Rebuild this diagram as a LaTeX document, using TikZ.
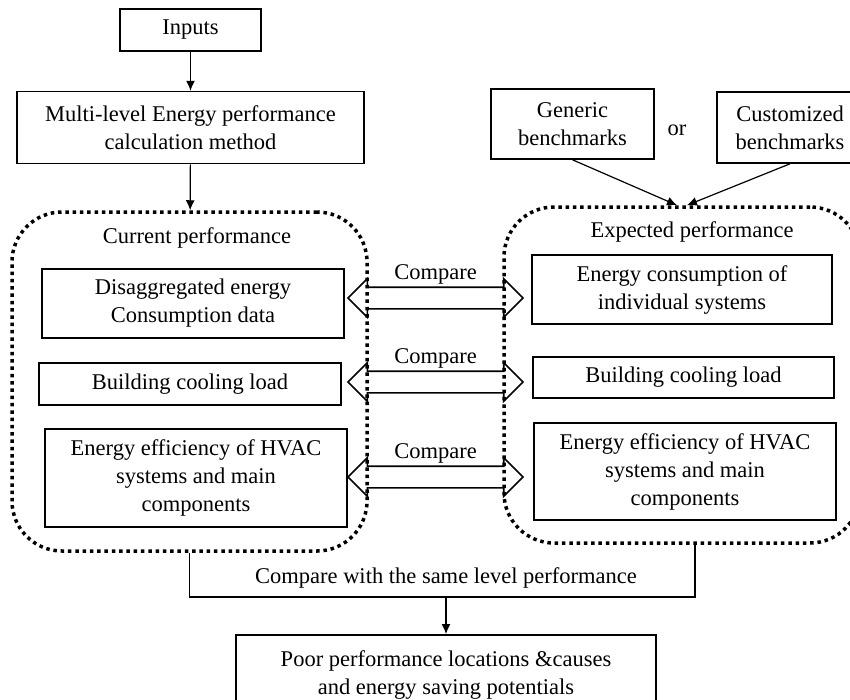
\documentclass[tikz,border=0pt]{standalone}
\usepackage{fontspec}
\setmainfont{Liberation Serif}
\usetikzlibrary{positioning,shapes.arrows,arrows.meta}

\begin{document}
\begin{tikzpicture}[x=1pt,y=-1pt,font=\fontsize{22.5}{28}\selectfont,
						box/.style={draw,line width=1.6pt,align=center,inner sep=0pt},
						grp/.style={draw,line width=3.5pt,dash pattern=on 3.5pt off 3.8pt,rounded corners=50pt,inner sep=0pt},
						cmp/.style={double arrow,draw,line width=1.6pt,inner xsep=0pt,inner ysep=10pt,minimum height=175pt,minimum width=37pt,double arrow head extend=8.5pt},
						arr/.style={-{Latex[length=10pt,width=9pt]},line width=1.2pt}]
		\useasboundingbox (0,0) rectangle (850,699);

		% top chain
		\node[box,minimum width=141pt,minimum height=42pt]						(inp)	at (190.5,30)	{Inputs};
		\node[box,minimum width=347pt,minimum height=72pt,node distance=39pt,below=of inp]	(mlm)	{Multi-level Energy performance\\calculation method};
		\node[box,minimum width=163pt,minimum height=70pt]						(gen)	at (572.5,124)	{Generic\\benchmarks};
		\node[box,minimum width=146pt,minimum height=71pt]						(cust)	at (790,127.5)	{Customized\\benchmarks};
		\node																(or)	at (677,130)	{or};

		% the two groups
		\node[grp,minimum width=355pt,minimum height=339pt]					(curr)	at (189.5,381.5)	{};
		\node																(currt)	at (197,238)	{Current performance};
		\node[box,minimum width=302pt,minimum height=69pt]						(dis)	at (193,303.5)	{Disaggregated energy\\Consumption data};
		\node[box,minimum width=302pt,minimum height=42pt]						(bcl1)	at (190,384)	{Building cooling load};
		\node[box,minimum width=302pt,minimum height=98pt]						(eff1)	at (196,478)	{Energy efficiency of HVAC\\systems and main\\components};

		\node[grp,minimum width=356pt,minimum height=336pt]					(expt)	at (682,375)	{};
		\node																(exptt)	at (692,232)	{Expected performance};
		\node[box,minimum width=300pt,minimum height=69pt]						(ind)	at (682,289.5)	{Energy consumption of\\individual systems};
		\node[box,minimum width=301pt,minimum height=41pt]						(bcl2)	at (683.5,377.5)	{Building cooling load};
		\node[box,minimum width=302pt,minimum height=97pt]						(eff2)	at (685,471.5)	{Energy efficiency of HVAC\\systems and main\\components};

		% compare arrows
		\node[cmp,label={[inner sep=2pt]above:Compare}]							(c1)	at (435.5,298)	{};
		\node[cmp,label={[inner sep=2pt]above:Compare}]							(c2)	at (435.5,382)	{};
		\node[cmp,label={[inner sep=2pt]above:Compare}]							(c3)	at (435.5,477)	{};

		% bottom
		\node[box,minimum width=420pt,minimum height=80pt,anchor=north]			(poor)	at (446,634)	{Poor performance locations \&causes\\and energy saving potentials};
		\node																(samel)	at (446,578)	{Compare with the same level performance};
		\coordinate	(jn)	at (446,597);
		\coordinate	(ej)	at ([xshift=13pt]expt.south);
		\coordinate	(et1)	at ([xshift=-5pt]expt.north);
		\coordinate	(et2)	at ([xshift=5pt]expt.north);

		\draw[arr] (inp) -- (mlm);
		\draw[arr] (mlm) -- (curr);
		\draw[arr] (gen.south) -- (et1);
		\draw[arr] (cust.south) -- (et2);
		\draw[line width=1.2pt] (curr.south) |- (jn) -| (ej);
		\draw[arr] (jn) -- (poor);
	\end{tikzpicture}
\end{document}
